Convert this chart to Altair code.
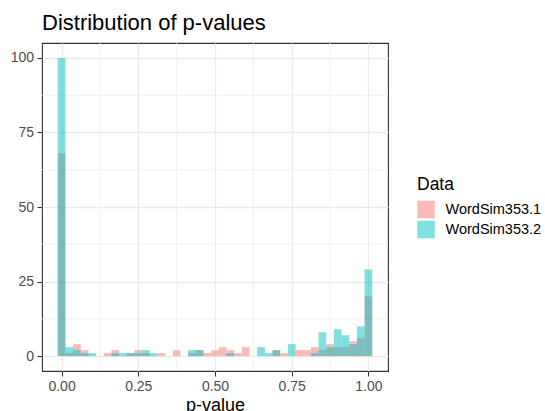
import altair as alt
import pandas as pd

bin_width = 0.025
bin_centers = [round(i * bin_width, 4) for i in range(41)]
ws1 = [68, 1, 4, 2, 0, 0, 1, 2, 0, 1, 2, 1, 0, 1, 0, 2, 0, 1, 2, 1,
       2, 3, 2, 1, 3, 0, 0, 0, 2, 1, 0, 2, 2, 3, 2, 4, 3, 3, 5, 6, 20]
ws2 = [100, 3, 2, 1, 1, 0, 0, 1, 1, 1, 1, 2, 1, 0, 0, 0, 0, 2, 2, 0,
       0, 0, 1, 0, 0, 0, 3, 1, 2, 0, 4, 0, 0, 1, 8, 3, 9, 7, 4, 10, 29]
series = ["WordSim353.1", "WordSim353.2"]
colors = ["#F8766D", "#00BFC4"]
x_ticks = [0, 0.25, 0.5, 0.75, 1.0]
y_ticks = [0, 25, 50, 75, 100]
x_minor = [0.125, 0.375, 0.625, 0.875]
y_minor = [12.5, 37.5, 62.5, 87.5]

rows = []
for name, counts in zip(series, [ws1, ws2]):
    for c, n in zip(bin_centers, counts):
        if n > 0:
            rows.append({"Data": name, "start": c - bin_width / 2,
                         "end": c + bin_width / 2, "count": n, "base": 0})
df = pd.DataFrame(rows)

FONT = "Liberation Sans"
x_scale = alt.Scale(domain=[-0.06375, 1.06375], nice=False, zero=False)
y_scale = alt.Scale(domain=[-5, 105], nice=False, zero=False)

x_axis = alt.Axis(values=x_ticks, format=".2f", domain=False, tickColor="#333333",
                  tickSize=5, tickWidth=1.1, labelColor="#4D4D4D", labelFontSize=14,
                  labelPadding=3, labelFont=FONT, gridColor="#EBEBEB", gridWidth=1.3,
                  titleFontSize=18, titleColor="black", titleFontWeight="normal",
                  titleFont=FONT, titlePadding=3)
y_axis = alt.Axis(values=y_ticks, format="d", domain=False, tickColor="#333333",
                  tickSize=5, tickWidth=1.1, labelColor="#4D4D4D", labelFontSize=14,
                  labelPadding=3.5, labelFont=FONT, gridColor="#EBEBEB", gridWidth=1.3)

minor_v = alt.Chart(pd.DataFrame({"x": x_minor})).mark_rule(
    color="#EEEEEE", strokeWidth=0.8).encode(
    x=alt.X("x:Q", scale=x_scale, axis=x_axis, title="p-value"))
minor_h = alt.Chart(pd.DataFrame({"y": y_minor})).mark_rule(
    color="#EEEEEE", strokeWidth=0.8).encode(
    y=alt.Y("y:Q", scale=y_scale, axis=y_axis, title=None))

bars = alt.Chart(df).mark_bar(opacity=0.5, strokeWidth=0).encode(
    x=alt.X("start:Q", scale=x_scale, axis=x_axis, title="p-value"),
    x2="end:Q",
    y=alt.Y("count:Q", scale=y_scale, axis=y_axis, title=None),
    y2="base:Q",
    color=alt.Color("Data:N", scale=alt.Scale(domain=series, range=colors),
                    legend=alt.Legend(orient="none", legendX=375, legendY=133,
                                      title="Data", titleFontSize=17.5,
                                      titleFontWeight="normal", titleColor="black",
                                      titleFont=FONT, titlePadding=7,
                                      labelFontSize=14.5, labelColor="black",
                                      labelFont=FONT, symbolType="square",
                                      symbolSize=306, symbolStrokeWidth=0,
                                      symbolOpacity=0.5, rowPadding=2,
                                      labelOffset=10.5, padding=0)),
    order=alt.Order("Data:N"),
)

chart = alt.layer(minor_v, minor_h, bars).properties(
    width=346, height=328,
    title=alt.TitleParams("Distribution of p-values", anchor="start", fontSize=22,
                          font=FONT, fontWeight="normal", color="black", offset=8,
                          frame="group"),
    autosize=alt.AutoSizeParams(type="none"),
    padding={"left": 42, "top": 43, "right": 157, "bottom": 40},
).configure(background="white").configure_view(stroke="#333333", strokeWidth=1.1)

chart.save("out.html", embed_options={"renderer": "svg", "actions": False})
